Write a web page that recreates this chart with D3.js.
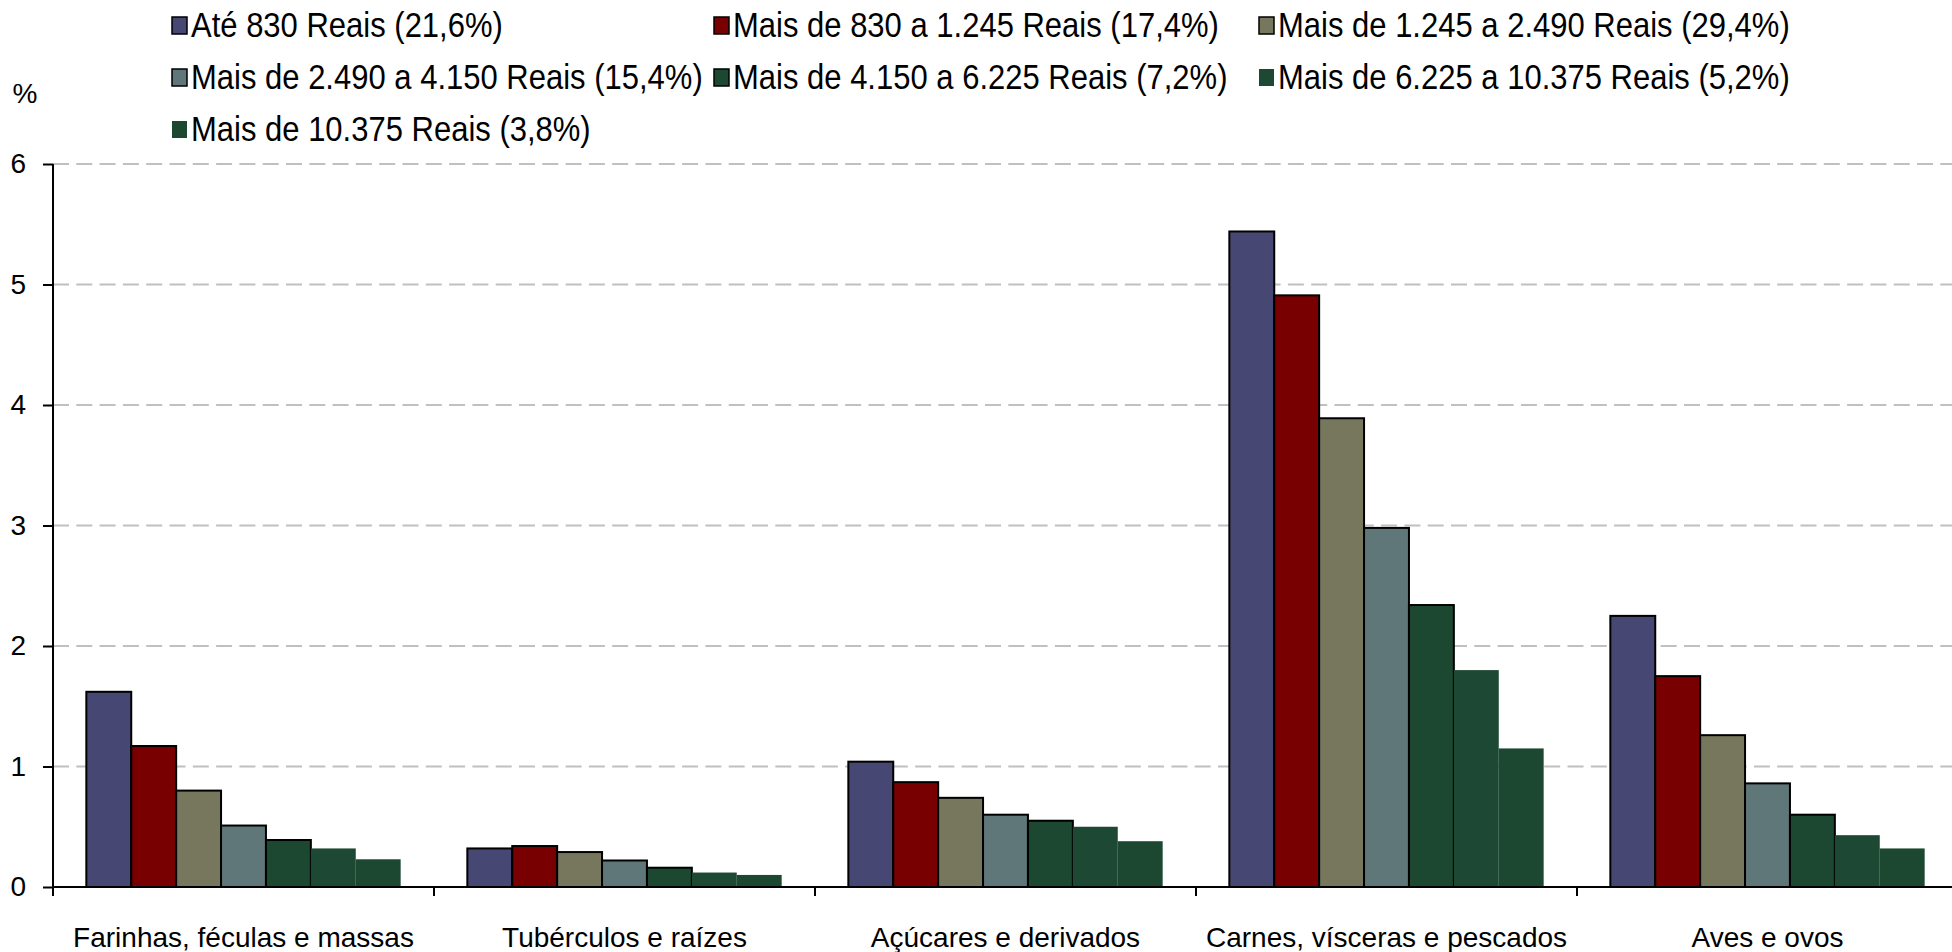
<!DOCTYPE html>
<html>
<head>
<meta charset="utf-8">
<script src="https://cdn.jsdelivr.net/npm/d3@7"></script>
<style>
  html, body { margin: 0; padding: 0; background: #ffffff; }
  svg { display: block; font-family: "Liberation Sans", Arial, sans-serif; }
</style>
</head>
<body>
<svg id="chart" width="1952" height="952"></svg>
<script>
// ---- data ----
const categories = [
  "Farinhas, féculas e massas",
  "Tubérculos e raízes",
  "Açúcares e derivados",
  "Carnes, vísceras e pescados",
  "Aves e ovos"
];
const seriesNames = [
  "Até 830 Reais (21,6%)",
  "Mais de 830 a 1.245 Reais (17,4%)",
  "Mais de 1.245 a 2.490 Reais (29,4%)",
  "Mais de 2.490 a 4.150 Reais (15,4%)",
  "Mais de 4.150 a 6.225 Reais (7,2%)",
  "Mais de 6.225 a 10.375 Reais (5,2%)",
  "Mais de 10.375 Reais (3,8%)"
];
// values per series, in category order
const s1 = [1.62, 0.32, 1.04, 5.44, 2.25];
const s2 = [1.17, 0.34, 0.87, 4.91, 1.75];
const s3 = [0.80, 0.29, 0.74, 3.89, 1.26];
const s4 = [0.51, 0.22, 0.60, 2.98, 0.86];
const s5 = [0.39, 0.16, 0.55, 2.34, 0.60];
const s6 = [0.32, 0.12, 0.50, 1.80, 0.43];
const s7 = [0.23, 0.10, 0.38, 1.15, 0.32];
const seriesValues = [s1, s2, s3, s4, s5, s6, s7];
const yTicks = [0, 1, 2, 3, 4, 5, 6];

// ---- styles ----
const colors = ["#474774", "#780000", "#77775d", "#5f7778", "#1c4832", "#1d4833", "#1c4832"];
const bordered = [true, true, true, true, true, false, false];

const svg = d3.select("#chart");
const plotLeft = 53, plotRight = 1958, plotTop = 164, plotBottom = 887;

const x0 = d3.scaleBand().domain(categories).range([plotLeft, plotRight])
  .paddingInner(0.175).paddingOuter(0.0875);
const x1 = d3.scaleBand().domain(d3.range(seriesNames.length)).range([0, x0.bandwidth()]).padding(0);
const y = d3.scaleLinear().domain([0, 6]).range([plotBottom, plotTop]);

// gridlines
svg.append("g").selectAll("line").data(yTicks.filter(d => d > 0)).join("line")
  .attr("x1", plotLeft).attr("x2", plotRight)
  .attr("y1", d => y(d)).attr("y2", d => y(d))
  .attr("stroke", "#c0c0c0").attr("stroke-width", 2)
  .attr("stroke-dasharray", "16,7.3");

// bars
const groups = svg.append("g").selectAll("g").data(categories).join("g")
  .attr("transform", d => `translate(${x0(d)},0)`);
groups.selectAll("rect")
  .data((c, ci) => seriesValues.map((vals, si) => ({si, v: vals[ci]})))
  .join("rect")
  .attr("x", d => x1(d.si))
  .attr("width", x1.bandwidth())
  .attr("y", d => y(d.v))
  .attr("height", d => y(0) - y(d.v))
  .attr("fill", d => colors[d.si])
  .attr("stroke", d => bordered[d.si] ? "#000" : "none")
  .attr("stroke-width", 2);

// y axis
const yAxis = d3.axisLeft(y).tickValues(yTicks).tickFormat(d3.format("d"))
  .tickSize(10).tickPadding(17);
const yg = svg.append("g").attr("transform", `translate(${plotLeft},0)`).call(yAxis);
yg.select(".domain").remove();
yg.selectAll(".tick line").attr("stroke", "#000").attr("stroke-width", 2);
yg.selectAll(".tick text").attr("font-size", 28).attr("fill", "#000")
  .attr("font-family", "Liberation Sans, Arial, sans-serif");
svg.append("line").attr("x1", plotLeft).attr("x2", plotLeft).attr("y1", plotTop).attr("y2", plotBottom + 9)
  .attr("stroke", "#000").attr("stroke-width", 2);

// x axis line and boundary ticks
svg.append("line").attr("x1", plotLeft).attr("x2", plotRight).attr("y1", plotBottom).attr("y2", plotBottom)
  .attr("stroke", "#000").attr("stroke-width", 2);
const boundaries = categories.map(c => x0(c) - x0.step() * x0.paddingOuter());
svg.append("g").selectAll("line").data(boundaries.slice(1)).join("line")
  .attr("x1", d => d).attr("x2", d => d).attr("y1", plotBottom).attr("y2", plotBottom + 9)
  .attr("stroke", "#000").attr("stroke-width", 2);

// category labels
svg.append("g").selectAll("text").data(categories).join("text")
  .attr("x", d => x0(d) + x0.bandwidth() / 2)
  .attr("y", 947)
  .attr("text-anchor", "middle")
  .attr("font-size", 28)
  .attr("fill", "#000")
  .text(d => d);

// "%" label
svg.append("text").attr("x", 25).attr("y", 103).attr("text-anchor", "middle")
  .attr("font-size", 28).attr("fill", "#000").text("%");

// legend
const legCols = [172, 714, 1259];
const legRows = [25, 77, 129];
const leg = svg.append("g").selectAll("g").data(seriesNames).join("g")
  .attr("transform", (d, i) => `translate(${legCols[i % 3]},${legRows[Math.floor(i / 3)]})`);
leg.append("rect").attr("x", 0).attr("y", -8).attr("width", 15).attr("height", 17)
  .attr("fill", (d, i) => colors[i])
  .attr("stroke", (d, i) => bordered[i] ? "#000" : "none")
  .attr("stroke-width", 1.5);
leg.append("text").attr("transform", "translate(19,12) scale(1,1.12)")
  .attr("font-size", 31).attr("fill", "#000")
  .text(d => d);
</script>
</body>
</html>
